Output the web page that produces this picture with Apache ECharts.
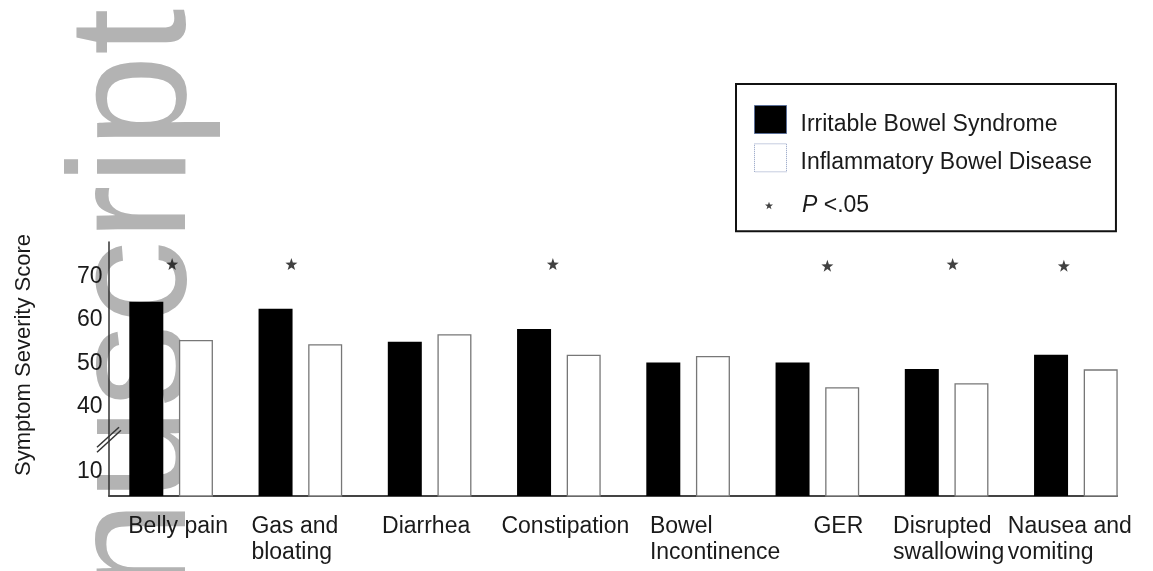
<!DOCTYPE html>
<html>
<head>
<meta charset="utf-8">
<script src="https://cdn.jsdelivr.net/npm/echarts@6.0.0/dist/echarts.min.js"></script>
<style>
html,body{margin:0;padding:0;background:#fff;}
#chart{width:1153px;height:571px;}
</style>
</head>
<body>
<div id="chart"></div>
<script>
// ---- data ----
const categories = ['Belly pain', 'Gas and\nbloating', 'Diarrhea', 'Constipation', 'Bowel\nIncontinence', 'GER', 'Disrupted\nswallowing', 'Nausea and\nvomiting'];
const seriesNames = ['Irritable Bowel Syndrome', 'Inflammatory Bowel Disease', 'P <.05'];
const ibsValues = [64.2, 62.6, 55.0, 57.9, 50.2, 50.2, 48.7, 52.0];
const ibdValues = [55.4, 54.4, 56.7, 52.0, 51.7, 44.5, 45.4, 48.6];
const significance = [72.9, 72.9, '-', 72.9, '-', 72.5, 72.9, 72.5];
const yTickValues = [10, 40, 50, 60, 70];
const watermarkText = 'nuscript';

// ---- layout nudges in px (+ = right) ----
const labelShift = [7, -5.5, -3.5, 6.5, 27, 21, 2, -6];
const starShift = [1, -9, 0, -6, 0, 10, 6, -12];

const FONT = "'Liberation Sans', Arial, sans-serif";
const TXT = '#1a1a1a';
const STAR = 'path://M0,-10 L2.35,-3.24 L9.51,-3.09 L3.8,1.24 L5.88,8.09 L0,4 L-5.88,8.09 L-3.8,1.24 L-9.51,-3.09 L-2.35,-3.24 Z';

const chart = echarts.init(document.getElementById('chart'), null, {renderer: 'canvas'});

const categoryItems = categories.map(function (c, i) {
  const d = labelShift[i];
  return {value: c, textStyle: {padding: d >= 0 ? [0, 0, 0, 2 * d] : [0, -2 * d, 0, 0]}};
});
const starItems = significance.map(function (v, i) {
  return {value: v, symbolOffset: [starShift[i], 0]};
});

const option = {
  animation: false,
  backgroundColor: '#fff',
  textStyle: {fontFamily: FONT},
  grid: [
    {left: 106.5, top: 242, width: 1034, height: 254, containLabel: false},
    {left: 109, top: 242, width: 1008, height: 254, containLabel: false}
  ],
  legend: [
    {
      data: [
        {name: seriesNames[0], icon: 'rect', itemStyle: {color: '#000', borderColor: '#5a6e96', borderWidth: 1}},
        {name: seriesNames[1], icon: 'rect', itemStyle: {color: '#fff', borderColor: '#8c9cc0', borderWidth: 1, borderType: 'dotted'}}
      ],
      orient: 'vertical',
      left: 736, top: 84,
      padding: [21, 24, 57, 18],
      itemWidth: 32, itemHeight: 28, itemGap: 7.3,
      borderColor: '#111', borderWidth: 2,
      backgroundColor: '#fff',
      selectedMode: false,
      formatter: function (name) { return '{a|' + name + '}'; },
      textStyle: {
        fontSize: 23, color: TXT, fontFamily: FONT, padding: [0, 0, 0, 9],
        rich: {a: {fontSize: 23, color: TXT, fontFamily: FONT, padding: [10, 0, 0, 0]}}
      }
    },
    {
      data: [{name: seriesNames[2], icon: STAR, itemStyle: {color: '#111'}}],
      orient: 'vertical',
      left: 765, top: 194,
      padding: 0,
      itemWidth: 8, itemHeight: 8,
      selectedMode: false,
      formatter: function () { return '{i|P}{n| <.05}'; },
      textStyle: {
        fontSize: 23, color: TXT, fontFamily: FONT,
        rich: {
          i: {fontSize: 23, fontStyle: 'italic', color: TXT, fontFamily: FONT, padding: [0, 0, 0, 24]},
          n: {fontSize: 23, color: TXT, fontFamily: FONT}
        }
      }
    }
  ],
  xAxis: [
    {
      type: 'category', gridIndex: 0, data: categoryItems,
      axisLine: {show: false}, axisTick: {show: false},
      axisLabel: {
        interval: 0, margin: 18, color: TXT, fontSize: 23, lineHeight: 26, fontFamily: FONT,
        formatter: function (v) { return v.split('\n').map(function (s) { return '{l|' + s + '}'; }).join('\n'); },
        rich: {l: {align: 'left', fontSize: 23, lineHeight: 26, color: TXT, fontFamily: FONT}}
      }
    },
    {
      type: 'value', gridIndex: 1, min: 0, max: 1, position: 'bottom',
      axisLine: {show: true, onZero: false, lineStyle: {color: '#444', width: 2}},
      axisTick: {show: false}, axisLabel: {show: false}, splitLine: {show: false}
    }
  ],
  yAxis: [
    {
      type: 'value', gridIndex: 0, min: 4.4, max: 78,
      breaks: [{start: 13, end: 37, gap: '15.4%'}],
      breakArea: {show: false},
      axisLine: {show: false},
      axisTick: {show: false},
      splitLine: {show: false},
      axisLabel: {customValues: yTickValues, fontSize: 23, color: TXT, margin: 4, fontFamily: FONT},
      name: 'Symptom Severity Score', nameLocation: 'middle', nameGap: 71.5, nameRotate: 90,
      nameTextStyle: {fontSize: 22, color: TXT, fontFamily: FONT, padding: [0, 0, 0, 28]}
    },
    {
      type: 'value', gridIndex: 1, min: 0, max: 1, position: 'left',
      axisLine: {show: true, onZero: false, lineStyle: {color: '#333', width: 1.5}},
      axisTick: {show: false}, axisLabel: {show: false}, splitLine: {show: false}
    }
  ],
  series: [
    {
      name: seriesNames[0], type: 'bar', xAxisIndex: 0, yAxisIndex: 0,
      data: ibsValues, barWidth: 34, barGap: '46%',
      itemStyle: {color: '#000'}
    },
    {
      name: seriesNames[1], type: 'bar', xAxisIndex: 0, yAxisIndex: 0,
      data: ibdValues, barWidth: 34, barGap: '46%',
      itemStyle: {color: '#fff', borderColor: '#777', borderWidth: 1.3}
    },
    {
      name: seriesNames[2], type: 'scatter', xAxisIndex: 0, yAxisIndex: 0,
      data: starItems, symbol: STAR, symbolSize: 12,
      itemStyle: {color: '#111'}
    }
  ]
};
chart.setOption(option);

// break marker "//" on the y axis and the faint watermark
const yA = chart.convertToPixel({yAxisIndex: 0}, 13);
const yB = chart.convertToPixel({yAxisIndex: 0}, 37);
const yMid = (yA + yB) / 2;
const xAxisPos = chart.convertToPixel({xAxisIndex: 1}, 0);
chart.setOption({
  graphic: [
    {
      type: 'text', z: -10, silent: true,
      x: 139, y: 8.7, rotation: Math.PI / 2,
      style: {text: watermarkText, font: 'normal 167px ' + FONT, fill: '#b3b3b3', align: 'right', verticalAlign: 'middle'}
    },
    {
      type: 'line', z: 50, silent: true,
      shape: {x1: xAxisPos - 12, y1: yMid + 8, x2: xAxisPos + 10, y2: yMid - 12},
      style: {stroke: '#333', lineWidth: 1.5}
    },
    {
      type: 'line', z: 50, silent: true,
      shape: {x1: xAxisPos - 12, y1: yMid + 13, x2: xAxisPos + 12, y2: yMid - 9},
      style: {stroke: '#333', lineWidth: 1.5}
    }
  ]
});
</script>
</body>
</html>
